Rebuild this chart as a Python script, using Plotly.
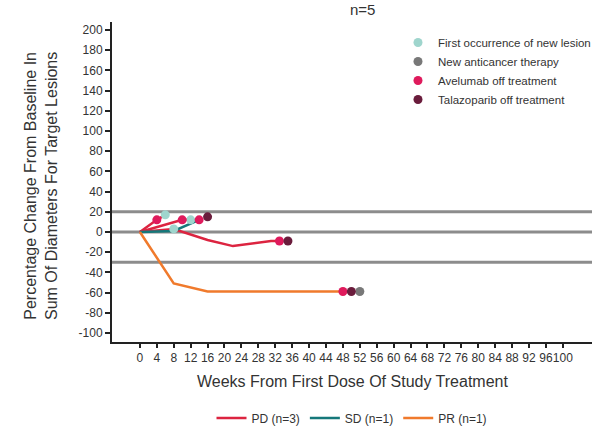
import plotly.graph_objects as go

# Patient trajectories (weeks, % change from baseline)
pd1_weeks = [0, 4, 6]
pd1_pct = [0, 12, 17]
pd2_weeks = [0, 10, 12]
pd2_pct = [0, 12, 12]
pd3_weeks = [0, 8, 16, 22, 31, 33]
pd3_pct = [0, 3, -8, -14, -9, -9]
sd_weeks = [0, 8, 14]
sd_pct = [0, 1, 12]
pr_weeks = [0, 8, 16, 48]
pr_pct = [0, -51, -59, -59]

# Events
new_lesion_weeks = [6, 8, 12]
new_lesion_pct = [17, 3, 12]
new_therapy_weeks = [52]
new_therapy_pct = [-59]
avelumab_off_weeks = [4, 10, 14, 33, 48]
avelumab_off_pct = [12, 12, 12, -9, -59]
talazoparib_off_weeks = [16, 35, 50]
talazoparib_off_pct = [15, -9, -59]

ref_lines = [20, 0, -30]
x_ticks = list(range(0, 101, 4))
y_ticks = list(range(-100, 201, 20))

PD_C = "#dc2440"
SD_C = "#15787a"
PR_C = "#f07a2c"
SANS = "Liberation Sans, Arial, sans-serif"

W, H = 592, 426
L, R, T, B = 112, 0, 22, 84
PW, PH = W - L - R, H - T - B


def px(xp):
    return (xp - L) / PW


def py_(yp):
    return (H - B - yp) / PH


fig = go.Figure()

line_sets = [
    (pd1_weeks, pd1_pct, PD_C, "PD (n=3)", True),
    (pd2_weeks, pd2_pct, PD_C, "PD (n=3)", False),
    (pd3_weeks, pd3_pct, PD_C, "PD (n=3)", False),
    (sd_weeks, sd_pct, SD_C, "SD (n=1)", True),
    (pr_weeks, pr_pct, PR_C, "PR (n=1)", True),
]
for wx, wy, col, name, show in line_sets:
    fig.add_trace(go.Scatter(x=wx, y=wy, mode="lines", line=dict(color=col, width=2.5),
                             name=name, legendgroup=name, showlegend=show, legend="legend"))

marker_sets = [
    (new_lesion_weeks, new_lesion_pct, "#9fd5cd", "First occurrence of new lesion"),
    (new_therapy_weeks, new_therapy_pct, "#787878", "New anticancer therapy"),
    (avelumab_off_weeks, avelumab_off_pct, "#df1a5c", "Avelumab off treatment"),
    (talazoparib_off_weeks, talazoparib_off_pct, "#6a1c3c", "Talazoparib off treatment"),
]
for wx, wy, col, name in marker_sets:
    fig.add_trace(go.Scatter(x=wx, y=wy, mode="markers", marker=dict(color=col, size=9),
                             name=name, legend="legend2"))

for v in ref_lines:
    fig.add_shape(type="line", xref="paper", x0=0, x1=1, yref="y", y0=v, y1=v,
                  line=dict(color="#8c8c8c", width=3), layer="below")

fig.update_layout(
    width=W, height=H,
    margin=dict(l=L, r=R, t=T, b=B, autoexpand=False),
    plot_bgcolor="white", paper_bgcolor="white",
    font=dict(family=SANS, color="#333333"),
    xaxis=dict(range=[-6.6, 106.9], tickvals=x_ticks, ticktext=[str(t) for t in x_ticks],
               tickangle=0,
               ticks="outside", ticklen=4, tickwidth=1.5, tickcolor="#222",
               showline=True, linecolor="#222", linewidth=2, showgrid=False, zeroline=False,
               tickfont=dict(family=SANS, size=12, color="#333")),
    yaxis=dict(range=[-109, 208], tickvals=y_ticks, ticktext=[str(t) for t in y_ticks],
               ticks="outside", ticklen=5, tickwidth=1.5, tickcolor="#222",
               showline=True, linecolor="#222", linewidth=2, showgrid=False, zeroline=False,
               tickfont=dict(family=SANS, size=12, color="#333")),
    legend=dict(orientation="h", xref="container", x=352 / W, xanchor="center",
                yref="container", y=(426 - 418) / 426, yanchor="middle",
                font=dict(family=SANS, size=12, color="#333"), tracegroupgap=0),
    legend2=dict(x=px(398), xanchor="left", y=py_(28), yanchor="top", xref="paper", yref="paper",
                 font=dict(family=SANS, size=11.5, color="#333"), bgcolor="rgba(0,0,0,0)",
                 tracegroupgap=0),
    annotations=[
        dict(text="n=5", xref="paper", yref="paper", x=px(362), y=py_(10), yanchor="middle",
             showarrow=False, font=dict(family=SANS, size=15, color="#333")),
        dict(text="Weeks From First Dose Of Study Treatment", xref="paper", yref="paper",
             x=px(352), y=py_(381), yanchor="middle", showarrow=False,
             font=dict(family=SANS, size=16, color="#333")),
        dict(text="Percentage Change From Baseline In<br>Sum Of Diameters For Target Lesions",
             xref="paper", yref="paper", x=px(41), y=py_(186),
             textangle=-90, showarrow=False, xanchor="center", yanchor="middle",
             font=dict(family=SANS, size=16, color="#333")),
    ],
)

fig.write_html("out.html")
